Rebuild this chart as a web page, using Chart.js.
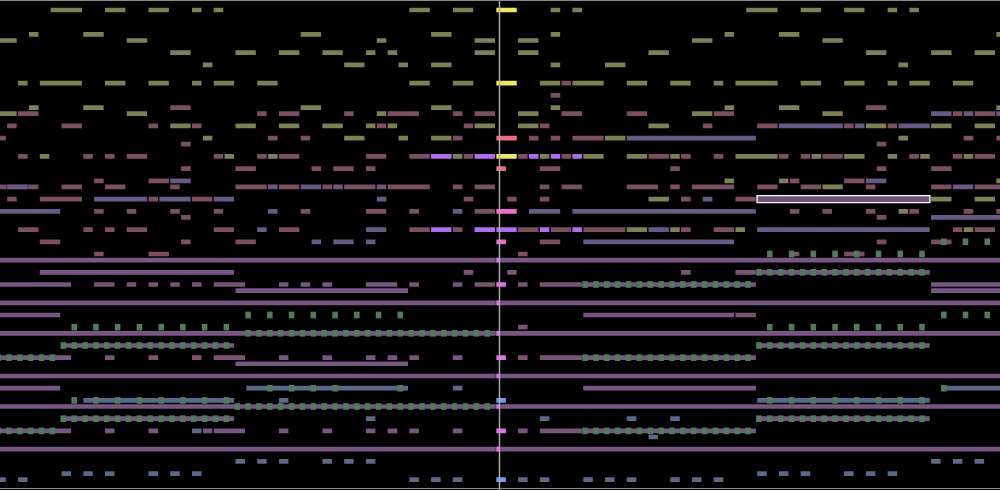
<!DOCTYPE html>
<html>
<head>
<meta charset="utf-8">
<script src="https://cdn.jsdelivr.net/npm/chart.js@4.4.1/dist/chart.umd.min.js"></script>
<style>
  html, body { margin: 0; padding: 0; background: #000; }
  #wrap { width: 1000px; height: 490px; }
</style>
</head>
<body>
<div id="wrap"><canvas id="roll" width="1000" height="490"></canvas></div>
<script>
// piano roll: time in sixteenths, pitch in semitones
const timeRange = [-0.6, 91.4];
const pitchRange = [17.31, 97.64];
const playhead = 45.3;
const dotLength = 0.45;

// [pitch, start, end]
const oliveNotes = [
  [96,4,7],[96,9,11],[96,13,15],[96,17,18],[96,19,20],[96,37,39],[96,41,43],[96,50,51],[96,52,53],[96,68,71],[96,73,75],[96,77,79],[96,81,82],[96,83,84],
  [92,2,3],[92,7,9],[92,27,29],[92,39,41],[92,50,51],[92,66,67],[92,71,73],[92,91,92],
  [91,-1,1],[91,11,13],[91,34,35],[91,43,45],[91,47,49],[91,63,65],[91,75,77],
  [89,15,17],[89,21,23],[89,25,27],[89,29,31],[89,33,34],[89,35,36],[89,43,45],[89,47,49],[89,59,61],[89,79,81],[89,85,87],[89,89,91],
  [87,18,19],[87,31,33],[87,36,37],[87,39,41],[87,50,51],[87,55,57],[87,82,83],
  [84,1,2],[84,3,7],[84,9,11],[84,13,15],[84,17,18],[84,19,21],[84,23,25],[84,37,39],[84,41,43],[84,49,51],[84,52,55],[84,57,59],[84,61,63],[84,65,66],[84,67,71],[84,73,75],[84,77,79],[84,81,82],[84,83,85],[84,87,89],
  [80,2,3],[80,7,9],[80,27,29],[80,39,41],[80,50,51],[80,66,67],[80,71,73],[80,91,92],
  [79,-1,1],[79,11,13],[79,34,35],[79,47,49],[79,63,65],[79,75,77],
  [77,15,17],[77,21,23],[77,25,27],[77,29,31],[77,33,34],[77,35,36],[77,43,45],[77,47,49],[77,59,61],[77,79,81],[77,85,87],[77,89,91],
  [75,18,19],[75,31,33],[75,36,37],[75,39,41],[75,55,57],[75,82,83],
  [72,3,4],[72,20,21],[72,24,25],[72,41,42],[72,49,50],[72,53,55],[72,57,59],[72,61,62],[72,67,71],[72,74,75],[72,77,79],[72,81,82],[72,84,85],[72,88,89],
  [68,66,67],[68,71,72],[68,91,92],
  [67,75,77],
  [65,59,61],[65,85,87],[65,89,91],
  [63,82,83],
  [60,57,59],[60,61,62],[60,67,68],[60,88,89]
];

const roseNotes = [
  [84,51,52],[82,50,51],
  [80,15,17],[80,79,81],
  [79,1,3],[79,23,24],[79,25,27],[79,31,32],[79,35,38],[79,41,42],[79,43,45],[79,51,53],[79,57,59],[79,65,67],[79,87,88],[79,89,91],
  [77,0,1],[77,5,7],[77,13,14],[77,17,18],[77,34,35],[77,42,43],[77,49,50],[77,64,65],[77,69,71],[77,77,78],[77,81,82],
  [75,-1,0],[75,24,25],[75,27,28],[75,41,42],[75,48,49],[75,50,51],[75,52,55],[75,88,89],[75,91,92],
  [74,16,17],[74,80,81],
  [72,1,2],[72,7,8],[72,9,10],[72,11,13],[72,19,20],[72,23,24],[72,25,27],[72,33,35],[72,37,39],[72,42,43],[72,47,48],[72,51,52],[72,59,61],[72,62,63],[72,65,66],[72,71,72],[72,73,74],[72,75,77],[72,83,84],[72,87,88],[72,89,91],
  [70,16,17],[70,21,23],[70,28,29],[70,30,32],[70,33,34],[70,49,51],[70,61,62],[70,80,81],[70,85,87],
  [68,8,9],[68,13,15],[68,72,73],[68,77,79],
  [67,-1,3],[67,5,7],[67,9,11],[67,15,16],[67,21,24],[67,25,27],[67,29,30],[67,31,34],[67,35,39],[67,41,42],[67,43,45],[67,49,50],[67,51,53],[67,57,60],[67,61,62],[67,63,67],[67,69,71],[67,73,75],[67,79,80],[67,85,87],[67,89,92],
  [65,0,1],[65,3,7],[65,13,14],[65,17,19],[65,42,43],[65,46,47],[65,49,50],[65,62,63],[65,67,69],
  [63,8,9],[63,11,12],[63,15,16],[63,19,20],[63,27,28],[63,33,35],[63,37,38],[63,43,45],[63,72,73],[63,75,76],[63,79,80],[63,83,84],[63,88,89],[63,91,92],
  [62,16,17],[62,80,81],
  [60,1,3],[60,7,8],[60,9,10],[60,11,13],[60,19,21],[60,25,27],[60,37,39],[60,41,42],[60,47,49],[60,50,52],[60,53,57],[60,62,63],[60,65,67],[60,87,88],[60,89,91],
  [58,3,5],[58,16,17],[58,21,23],[58,49,51],[58,80,81],[58,85,87],
  [56,8,9],[56,13,15],[56,47,48],[56,72,73],[56,77,79]
];

const violetNotes = [
  [79,85,87],[79,88,89],[79,91,92],
  [77,71,77],[77,78,79],[77,82,85],
  [75,57,69],
  [68,15,17],[68,79,81],
  [67,0,2],[67,24,25],[67,27,29],[67,30,31],[67,34,35],[67,87,89],
  [65,8,13],[65,14,17],[65,19,21],[65,34,35],[65,64,65],
  [63,-1,5],[63,24,25],[63,41,42],[63,48,51],[63,52,69],
  [62,85,92],
  [60,23,24],[60,33,35],[60,59,61],[60,69,85],
  [58,28,29],[58,30,32],[58,33,34],[58,53,67]
];

const bassNotes = [
  [55,-1,92],[48,-1,92],[43,-1,92],[36,-1,92],[31,-1,92],[24,-1,92],
  [53,3,21],[53,69,85],
  [51,-1,6],[51,25,26],[51,27,28],[51,29,30],[51,33,36],[51,41,42],[51,53,69],[51,85,92],
  [50,21,37],[50,85,92],
  [46,-1,5],[46,53,67],
  [41,5,21],[41,69,85],
  [39,-1,6],[39,25,26],[39,29,30],[39,33,34],[39,35,36],[39,41,42],[39,53,69],
  [38,21,37],
  [34,-1,5],[34,53,69],
  [29,5,21],[29,69,85],
  [27,-1,6],[27,9,10],[27,13,14],[27,18,19],[27,19,22],[27,25,26],[27,29,30],[27,33,34],[27,35,36],[27,37,38],[27,41,42],[27,53,69]
];

const mauveNotes = [
  [53,42,43],[53,46,47],[53,62,63],[53,67,69],
  [51,8,10],[51,11,12],[51,13,14],[51,15,16],[51,17,18],[51,19,22],[51,37,38],[51,43,45],[51,47,48],[51,49,53],
  [46,67,69],[44,47,48],
  [39,9,10],[39,13,14],[39,17,18],[39,19,22],[39,37,38],[39,47,48],[39,49,53],
  [27,47,48],[27,49,53]
];

const slateNotes = [
  [34,22,37],[34,41,42],[34,86,92],
  [32,7,21],[32,25,26],[32,69,85],
  [29,33,34],[29,49,50],[29,57,58],[29,61,62],
  [27,17,18],[26,59,60],
  [22,21,22],[22,23,24],[22,25,26],[22,29,30],[22,31,32],[22,33,34],[22,85,86],[22,87,88],[22,89,90],
  [20,5,6],[20,7,8],[20,9,10],[20,13,14],[20,15,16],[20,17,18],[20,69,70],[20,71,72],[20,73,74],[20,77,78],[20,79,80],[20,81,82],
  [19,-1,0],[19,1,2],[19,37,38],[19,39,40],[19,41,42],[19,47,48],[19,49,50],[19,53,54],[19,55,56],[19,57,58],[19,61,62],[19,63,64],[19,65,66]
];

// [pitch, [starts]] short green hits
const greenHits = [
  [58,[86,88,90]],
  [56,[70,72,74,76,78,80,82,84]],
  [53,[69,70,71,72,73,74,75,76,77,78,79,80,81,82,83,84]],
  [51,[53,54,55,56,57,58,59,60,61,62,63,64,65,66,67,68]],
  [46,[22,24,26,28,30,32,34,36,86,88,90]],
  [44,[6,8,10,12,14,16,18,20,70,72,74,76,78,80,82,84]],
  [43,[22,23,24,25,26,27,28,29,30,31,32,33,34,35,36,37,38,39,40,41,42,43,44]],
  [41,[5,6,7,8,9,10,11,12,13,14,15,16,17,18,19,20,69,70,71,72,73,74,75,76,77,78,79,80,81,82,83,84]],
  [39,[-1,0,1,2,3,4,53,54,55,56,57,58,59,60,61,62,63,64,65,66,67,68]],
  [34,[24,26,28,30,36,86]],
  [32,[6,8,10,12,14,16,18,20,70,72,74,76,78,80,82,84]],
  [31,[21,22,23,24,25,26,27,28,29,30,31,32,33,34,35,36,37,38,39,40,41,42,43,44]],
  [29,[5,6,7,8,9,10,11,12,13,14,15,16,17,18,19,20,69,70,71,72,73,74,75,76,77,78,79,80,81,82,83,84]],
  [27,[-1,0,1,2,3,4,53,54,55,56,57,58,59,60,61,62,63,64,65,66,67,68]]
];

// notes sounding at the playhead
const yellowActive = [[96,45,47],[84,45,47],[72,45,47]];
const redActive = [[75,45,47],[70,45,46]];
const pinkActive = [[63,45,47],[58,45,46]];
const lilacActive = [[72,39,41],[72,43,45],[72,48,49],[72,50,51],[72,52,53],[60,39,41],[60,43,45],[60,45,47],[60,49,50],[60,52,53]];
const magentaActive = [[55,45,45.5],[51,45,46],[48,45,45.5],[43,45,45.5],[39,45,46],[36,45,45.5],[31,45,45.5],[27,45,46],[24,45,45.5]];
const blueActive = [[32,45,46],[19,45,46]];
const selectedNote = [[65,69,85]];

function toBars(list) {
  return list.map(([p, s, e]) => ({ y: p, x: [s, e] }));
}
function toHits(rows) {
  const out = [];
  rows.forEach(([p, starts]) => starts.forEach(s => out.push({ y: p, x: [s, s + dotLength] })));
  return out;
}

const edge = 'rgba(0,0,0,0.45)';
const overlay = {
  id: 'overlay',
  afterDatasetsDraw(chart) {
    const { ctx, scales: { x } } = chart;
    const px = Math.round(x.getPixelForValue(playhead)) + 0.5;
    ctx.save();
    ctx.strokeStyle = '#a8a8a8';
    ctx.lineWidth = 1.5;
    ctx.beginPath();
    ctx.moveTo(px, 0);
    ctx.lineTo(px, chart.height);
    ctx.stroke();
    ctx.strokeStyle = '#8a8a8a';
    ctx.lineWidth = 1;
    ctx.beginPath();
    ctx.moveTo(0, 0.5); ctx.lineTo(chart.width, 0.5);
    ctx.moveTo(0, chart.height - 1.5); ctx.lineTo(chart.width, chart.height - 1.5);
    ctx.stroke();
    ctx.restore();
  }
};

// first dataset is drawn on top
new Chart(document.getElementById('roll'), {
  type: 'bar',
  data: {
    datasets: [
      { label: 'selected', data: toBars(selectedNote), backgroundColor: '#6f5578', borderColor: '#ffffff', borderWidth: 1.5, barThickness: 8 },
      { label: 'yellow', data: toBars(yellowActive), backgroundColor: '#e8e864' },
      { label: 'red', data: toBars(redActive), backgroundColor: '#ee6a86' },
      { label: 'pink', data: toBars(pinkActive), backgroundColor: '#f06cc8' },
      { label: 'lilac', data: toBars(lilacActive), backgroundColor: '#b06cf0' },
      { label: 'magenta', data: toBars(magentaActive), backgroundColor: '#e66cf0' },
      { label: 'blue', data: toBars(blueActive), backgroundColor: '#6c9cf0' },
      { label: 'green', data: toHits(greenHits), backgroundColor: '#4f7d5c', borderWidth: 0 },
      { label: 'olive', data: toBars(oliveNotes), backgroundColor: '#7b8154' },
      { label: 'violet', data: toBars(violetNotes), backgroundColor: '#675986' },
      { label: 'rose', data: toBars(roseNotes), backgroundColor: '#7b4f5e' },
      { label: 'mauve', data: toBars(mauveNotes), backgroundColor: '#7a5474' },
      { label: 'slate', data: toBars(slateNotes), backgroundColor: '#5a6988' },
      { label: 'bass', data: toBars(bassNotes), backgroundColor: '#775683' }
    ]
  },
  options: {
    indexAxis: 'y',
    responsive: false,
    animation: false,
    layout: { padding: 0 },
    datasets: {
      bar: { grouped: false, barThickness: 6, borderWidth: 1, borderColor: edge, borderSkipped: false }
    },
    scales: {
      x: { type: 'linear', min: timeRange[0], max: timeRange[1], display: false },
      y: { type: 'linear', min: pitchRange[0], max: pitchRange[1], offset: false, display: false }
    },
    plugins: { legend: { display: false }, tooltip: { enabled: false } }
  },
  plugins: [overlay]
});
</script>
</body>
</html>
